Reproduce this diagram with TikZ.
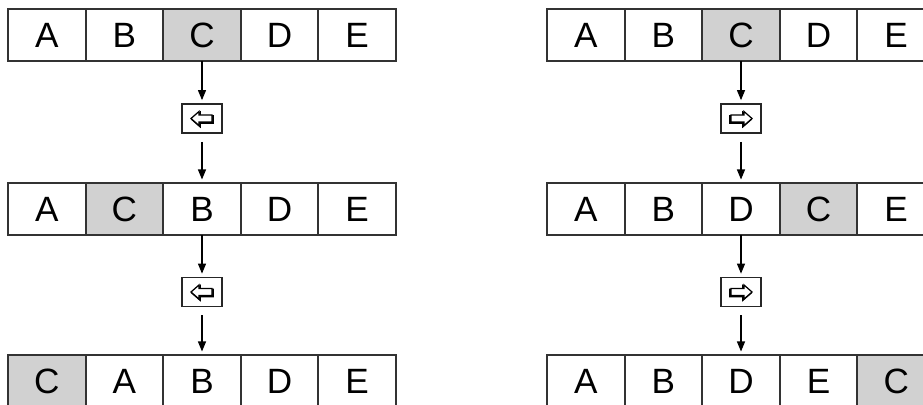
\documentclass[tikz,border=0pt]{standalone}
\usepackage{fontspec}
\setmainfont{Liberation Sans}
\usetikzlibrary{arrows.meta}

\begin{document}
\begin{tikzpicture}[x=0.02cm, y=-0.02cm, >={Triangle[length=2mm, width=1.6mm]},
  cell/.style={draw=black!80, line width=1.1pt, minimum width=1.552cm, minimum height=1.04cm,
    inner sep=0pt, outer sep=0pt, font=\fontsize{20}{22}\selectfont},
  keybox/.style={draw=black!85, line width=1pt, minimum width=0.8cm, minimum height=0.58cm, inner sep=0pt},
  hollow/.pic={
    \draw[black, fill=black, line width=0.9pt] (-10,1)--(-2,-6)--(-2,-2.5)--(11,-2.5)--(11,4.5)--(-2,4.5)--(-2,8)--cycle;
    \draw[black, fill=white, line width=0.7pt] (-11,0)--(-3,-7)--(-3,-3.5)--(10,-3.5)--(10,3.5)--(-3,3.5)--(-3,7)--cycle;
  }]
  \useasboundingbox (0,0) rectangle (923,405);
  \clip (0,0) rectangle (923,405);
  \fill[white] (0,0) rectangle (923,405);
  % left: C moves to the left
  \foreach \letters/\y/\hot [count=\r] in {{A,B,C,D,E}/35/3, {A,C,B,D,E}/209/2, {C,A,B,D,E}/381/1}
    \foreach \t [count=\i] in \letters {
      \ifnum\i=\hot \def\cellfill{black!18}\else\def\cellfill{white}\fi
      \node[cell, fill=\cellfill] (l\r-\i) at ({8+77.6*(\i-0.5)},\y) {\t};
    }
  % right: C moves to the right
  \foreach \letters/\y/\hot [count=\r] in {{A,B,C,D,E}/35/3, {A,B,D,C,E}/209/4, {A,B,D,E,C}/381/5}
    \foreach \t [count=\i] in \letters {
      \ifnum\i=\hot \def\cellfill{black!18}\else\def\cellfill{white}\fi
      \node[cell, fill=\cellfill] (r\r-\i) at ({547+77.6*(\i-0.5)},\y) {\t};
    }

  \node[keybox] (lk1) at (202,118.5) {};
  \node[keybox] (lk2) at (202,292) {};
  \node[keybox] (rk1) at (741,118.5) {};
  \node[keybox] (rk2) at (741,292) {};
  \pic at (lk1.center) {hollow};
  \pic at (lk2.center) {hollow};
  \pic[xscale=-1] at (rk1.center) {hollow};
  \pic[xscale=-1] at (rk2.center) {hollow};

  \draw[->, line width=0.6pt, shorten >=1.7pt] (l1-3.south) -- (lk1.north);
  \draw[->, line width=0.6pt, shorten <=4.5pt, shorten >=2pt] (lk1.south) -- (l2-3.north);
  \draw[->, line width=0.6pt, shorten >=1.7pt] (l2-3.south) -- (lk2.north);
  \draw[->, line width=0.6pt, shorten <=4.5pt, shorten >=2pt] (lk2.south) -- (l3-3.north);
  \draw[->, line width=0.6pt, shorten >=1.7pt] (r1-3.south) -- (rk1.north);
  \draw[->, line width=0.6pt, shorten <=4.5pt, shorten >=2pt] (rk1.south) -- (r2-3.north);
  \draw[->, line width=0.6pt, shorten >=1.7pt] (r2-3.south) -- (rk2.north);
  \draw[->, line width=0.6pt, shorten <=4.5pt, shorten >=2pt] (rk2.south) -- (r3-3.north);
\end{tikzpicture}
\end{document}
